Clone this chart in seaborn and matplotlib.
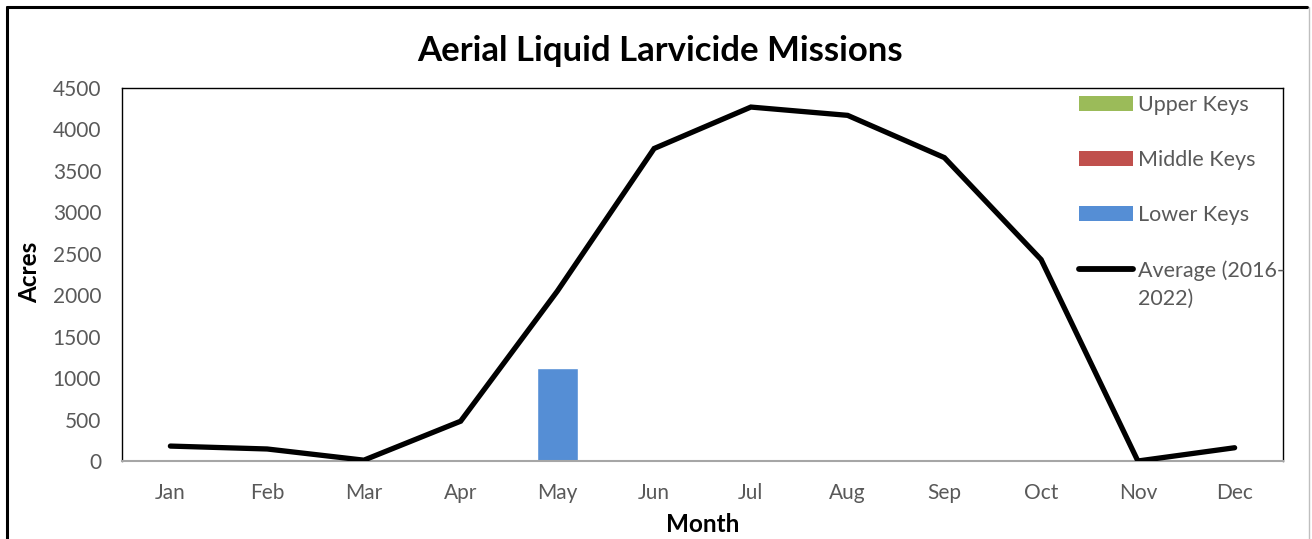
import numpy as np
import pandas as pd
import matplotlib
matplotlib.use("Agg")
import matplotlib.pyplot as plt
from matplotlib.lines import Line2D
from matplotlib.patches import Patch
import seaborn as sns

months = ["Jan", "Feb", "Mar", "Apr", "May", "Jun", "Jul", "Aug", "Sep", "Oct", "Nov", "Dec"]
upper_keys = [0, 0, 0, 0, 0, 0, 0, 0, 0, 0, 0, 0]
middle_keys = [0, 0, 0, 0, 0, 0, 0, 0, 0, 0, 0, 0]
lower_keys = [0, 0, 0, 0, 1125, 0, 0, 0, 0, 0, 0, 0]
average = [180, 145, 10, 480, 2050, 3770, 4270, 4170, 3660, 2430, 0, 160]
yticks = [0, 500, 1000, 1500, 2000, 2500, 3000, 3500, 4000, 4500]

sns.set_theme(style="white")
plt.rcParams['font.family'] = ['Lato', 'DejaVu Sans']

C_UP = "#9BBB59"
C_MID = "#C0504D"
C_LOW = "#558ED5"
TXT = "#595959"

fig = plt.figure(figsize=(13.12, 5.39), dpi=100)
ax = fig.add_axes([122/1312, 1-461/539, (1283-122)/1312, (461-88)/539])

df = pd.DataFrame({"Month": months, "Upper": upper_keys, "Middle": middle_keys,
                   "Lower": lower_keys, "Average": average})
df["s_low"] = df["Lower"]
df["s_mid"] = df["Lower"] + df["Middle"]
df["s_up"] = df["Lower"] + df["Middle"] + df["Upper"]

sns.barplot(data=df, x="Month", y="s_up", color=C_UP, width=0.42, saturation=1, ax=ax, zorder=2)
sns.barplot(data=df, x="Month", y="s_mid", color=C_MID, width=0.42, saturation=1, ax=ax, zorder=2)
sns.barplot(data=df, x="Month", y="s_low", color=C_LOW, width=0.42, saturation=1, ax=ax, zorder=2)

df["pos"] = np.arange(len(months))
sns.lineplot(data=df, x="pos", y="Average", color="black", linewidth=3.8, ax=ax,
             solid_capstyle="round", solid_joinstyle="miter", zorder=3)

ax.set_xlim(-0.5, 11.5)
ax.set_ylim(0, 4500)
ax.set_yticks(yticks)
ax.set_xticks(range(len(months)))
ax.set_xticklabels(months)
ax.tick_params(axis="both", length=0, labelsize=15, labelcolor=TXT)
ax.tick_params(axis="x", pad=16)
ax.tick_params(axis="y", pad=15)

for s in ["left", "top", "right"]:
    ax.spines[s].set_color("black")
    ax.spines[s].set_linewidth(1.0)
ax.spines["bottom"].set_color("#A6A6A6")
ax.spines["bottom"].set_linewidth(1.5)

ax.set_xlabel("")
ax.set_ylabel("")
fig.text(30/1312, 1-272/539, "Acres", rotation=90, ha="center", va="center",
         fontsize=17.5, fontweight="bold", color="black")
fig.text(703/1312, 1-524/539, "Month", ha="center", va="center",
         fontsize=17.5, fontweight="bold", color="black")
fig.text(660/1312, 1-51/539, "Aerial Liquid Larvicide Missions", ha="center", va="center",
         fontsize=25, fontweight="bold", color="black")

handles = [Patch(facecolor=C_UP, edgecolor="none"),
           Patch(facecolor=C_MID, edgecolor="none"),
           Patch(facecolor=C_LOW, edgecolor="none"),
           Line2D([0], [0], color="black", linewidth=4.2, solid_capstyle="round")]
labels = ["Upper Keys", "Middle Keys", "Lower Keys", "Average (2016-"]
leg = fig.legend(handles, labels, loc="upper left", bbox_to_anchor=(1068/1312, 1-84/539),
                 frameon=False, fontsize=15.5, labelcolor=TXT, handlelength=2.5,
                 handleheight=0.7, handletextpad=0.25, labelspacing=1.63, borderpad=0)

fig.canvas.draw()
bb = leg.get_texts()[3].get_window_extent(fig.canvas.get_renderer())
fig.text(bb.x0/1312, (bb.y0 + bb.y1)/2/539 - 29/539, "2022)", ha="left", va="center",
         fontsize=15.5, color=TXT)

# outer chart frame
fig.add_artist(Line2D([7/1312, 7/1312], [0, 1-7/539], color="black", linewidth=2.2, transform=fig.transFigure))
fig.add_artist(Line2D([7/1312, 1307/1312], [1-7/539, 1-7/539], color="black", linewidth=2.2, transform=fig.transFigure))
fig.add_artist(Line2D([1309/1312, 1309/1312], [0, 1-7/539], color="#BFBFBF", linewidth=1.0, transform=fig.transFigure))

fig.savefig("out.png", dpi=100, facecolor="white")
